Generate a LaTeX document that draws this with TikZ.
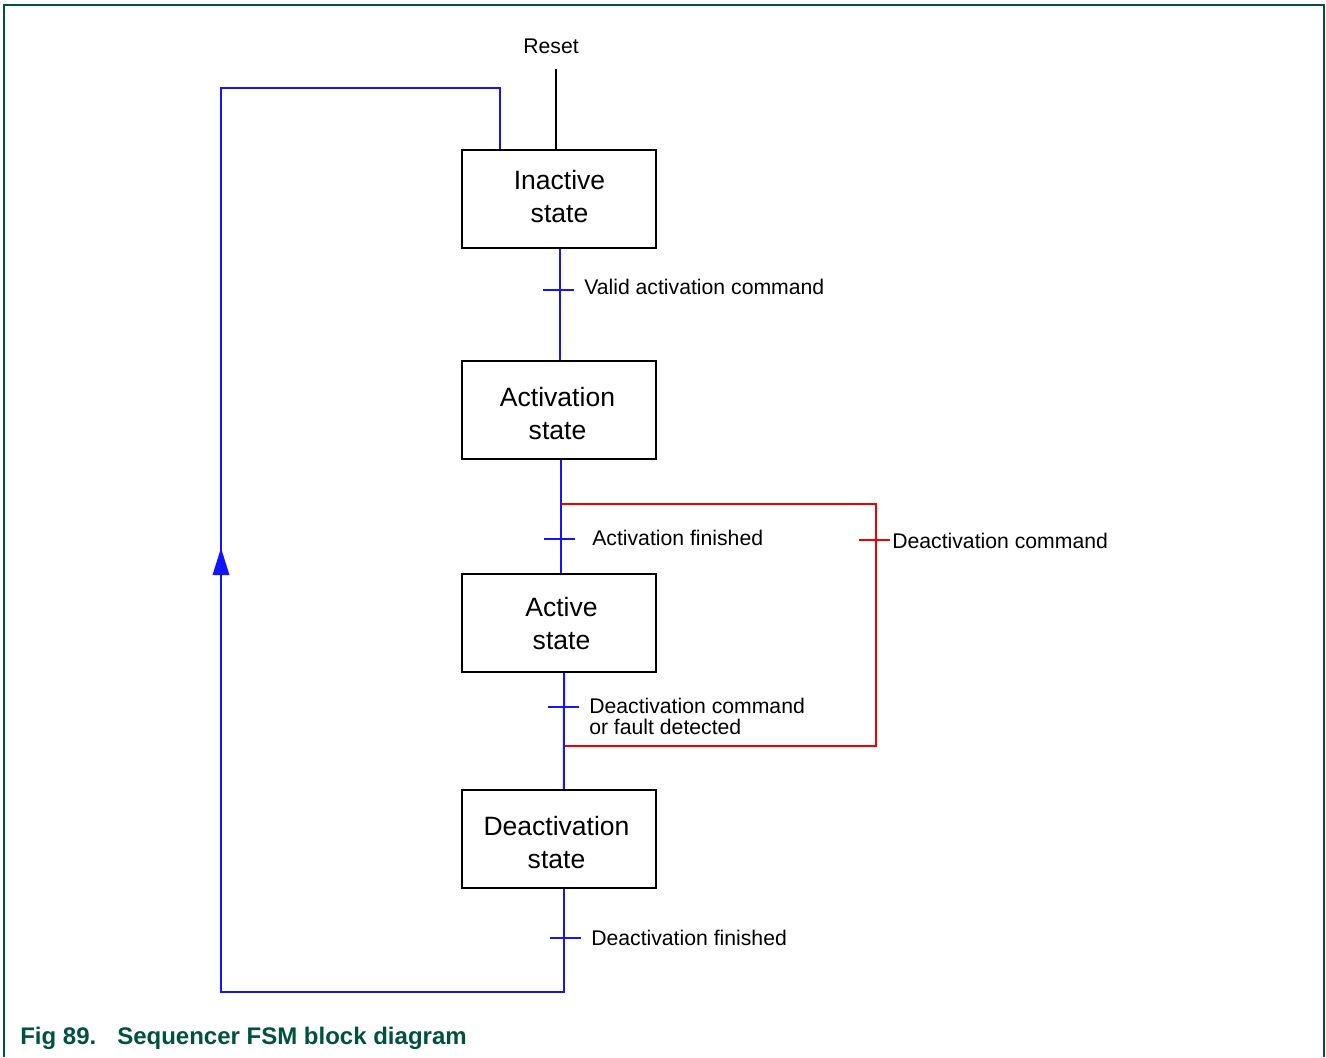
\documentclass[tikz,border=0pt]{standalone}
\usepackage{fontspec}
\setmainfont{Liberation Sans}
\definecolor{nxpgreen}{RGB}{0,82,62}
\definecolor{lineblue}{RGB}{20,20,255}
\definecolor{linered}{RGB}{240,0,0}
\newcommand{\stxt}[3]{\hspace*{#2}\raisebox{#1}[\height][\depth]{\begin{tabular}{@{}c@{}}#3\end{tabular}}}
\begin{document}
\begin{tikzpicture}[x=0.75pt,y=-0.75pt,
  statebox/.style={draw=black,line width=1.5pt,minimum width=145.5pt,minimum height=73.5pt,
    align=center,inner sep=0pt,font=\fontsize{19.9}{24.75}\selectfont},
  lbl/.style={anchor=west,inner sep=0pt,align=left,font=\fontsize{15.9}{15.75}\selectfont},
  bl/.style={draw=lineblue,line width=1.5pt},
  rd/.style={draw=linered,line width=1.5pt},
  frame/.style={draw=nxpgreen,line width=1.5pt}]
\useasboundingbox (0,0) rectangle (1326,1057);
% frame
\draw[frame] (4,1057) -- (4,5) -- (1324,5) -- (1324,1057);
% states
\node[statebox] (inact) at (559,199) {\stxt{0pt}{0.75pt}{Inactive\\state}};
\node[statebox] (actv) at (559,409.5) {\stxt{-5.25pt}{-2.25pt}{Activation\\state}};
\node[statebox] (active) at (559,623) {\stxt{-2.25pt}{3.75pt}{Active\\state}};
\node[statebox] (deact) at (558.5,839) {\stxt{-4.5pt}{-3pt}{Deactivation\\state}};
% reset
\node[inner sep=0pt,font=\fontsize{15.9}{15.75}\selectfont] (reset) at (551,46) {Reset};
\coordinate (rtop) at (556,69);
\draw[line width=1.5pt] (rtop) -- (rtop |- inact.north);
% inactive -> activation
\draw[bl] ([xshift=0.75pt]inact.south) -- ([xshift=0.75pt]actv.north);
\coordinate (t1) at (560,290);
\draw[bl] (t1) ++(-17,0) -- ++(31,0);
\node[lbl] (l1) at (584,287) {Valid activation command};
% activation -> active
\draw[bl] ([xshift=1.5pt]actv.south) -- ([xshift=1.5pt]active.north);
\coordinate (t2) at (561,539);
\draw[bl] (t2) ++(-17,0) -- ++(31,0);
\node[lbl] (l2) at (592,538) {Activation finished};
% red deactivation path
\coordinate (rs) at (561,504);
\coordinate (rc1) at (876,504);
\coordinate (rc2) at (876,746);
\coordinate (re) at (564,746);
\draw[rd] (rs) -- (rc1) -- (rc2) -- (re);
\coordinate (t3) at (876,540);
\draw[rd] (t3) ++(-17,0) -- ++(31,0);
\node[lbl] (l3) at (892,541) {Deactivation command};
% active -> deactivation
\draw[bl] ([xshift=3.75pt]active.south) -- ([xshift=4.1pt]deact.north);
\coordinate (t4) at (564,707);
\draw[bl] (t4) ++(-16,0) -- ++(31,0);
\node[lbl] (l4) at (589,716.5) {Deactivation command\\or fault detected};
% deactivation -> inactive
\coordinate (bl1) at (221,992);
\coordinate (tl1) at (221,88);
\coordinate (inx) at (500,88);
\draw[bl] ([xshift=4.1pt]deact.south) -- ([xshift=4.1pt]deact.south |- bl1) -- (bl1) -- (tl1) -- (inx) -- (inx |- inact.north);
\coordinate (t5) at (564,938);
\draw[bl] (t5) ++(-14,0) -- ++(31,0);
\node[lbl] (l5) at (591,938) {Deactivation finished};
\coordinate (ar) at (221,548);
\fill[lineblue] (ar) -- ++(-8.5,27) -- ++(17,0) -- cycle;
% caption
\node[anchor=west,inner sep=0pt,text=nxpgreen,font=\fontsize{18}{20}\selectfont\bfseries] (cap1) at (20,1038) {Fig 89.};
\node[anchor=west,inner sep=0pt,text=nxpgreen,font=\fontsize{18}{20}\selectfont\bfseries] (cap2) at (117,1038) {Sequencer FSM block diagram};
\end{tikzpicture}
\end{document}
